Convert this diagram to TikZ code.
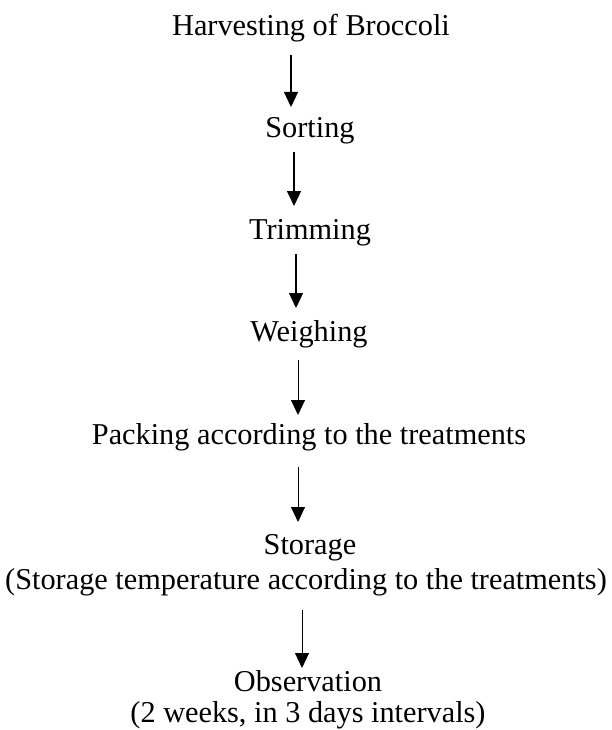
\documentclass[tikz,border=0pt]{standalone}
\usepackage{fontspec}
\setmainfont{Liberation Serif}
\usetikzlibrary{arrows.meta}
\begin{document}
\begin{tikzpicture}[x=1pt,y=1pt,
  lbl/.style={inner sep=0pt,font=\fontsize{30.3}{35}\selectfont,align=center},
  arr/.style={line width=1.3pt,-{Triangle[length=15pt,width=14pt]}},
  arrthin/.style={line width=0.9pt,-{Triangle[length=15pt,width=14pt]}}]
\useasboundingbox (0,0) rectangle (612,-730);
\node[lbl] (hv) at (311,-28) {Harvesting of Broccoli};
\node[lbl] (so) at (310,-131) {Sorting};
\node[lbl] (tr) at (310,-233) {Trimming};
\node[lbl] (we) at (309,-334) {Weighing};
\node[lbl] (pa) at (309,-437) {Packing according to the treatments};
\node[lbl] (st) at (306,-565) {\hspace*{8pt}Storage\\(Storage temperature according to the treatments)};
\node[lbl,font=\fontsize{30.3}{31}\selectfont] (ob) at (308,-700) {Observation\\(2 weeks, in 3 days intervals)};
\coordinate (a1) at (291,-55);  \coordinate (b1) at (291,-107);
\coordinate (a2) at (294,-152); \coordinate (b2) at (294,-206);
\coordinate (a3) at (296,-254); \coordinate (b3) at (296,-308);
\coordinate (a4) at (298,-360); \coordinate (b4) at (298,-415);
\coordinate (a5) at (298,-467); \coordinate (b5) at (298,-522);
\coordinate (a6) at (302,-610); \coordinate (b6) at (302,-668);
\draw[arr] (a1) -- (b1);
\draw[arr] (a2) -- (b2);
\draw[arr] (a3) -- (b3);
\draw[arrthin] (a4) -- (b4);
\draw[arrthin] (a5) -- (b5);
\draw[arrthin] (a6) -- (b6);
\end{tikzpicture}
\end{document}
